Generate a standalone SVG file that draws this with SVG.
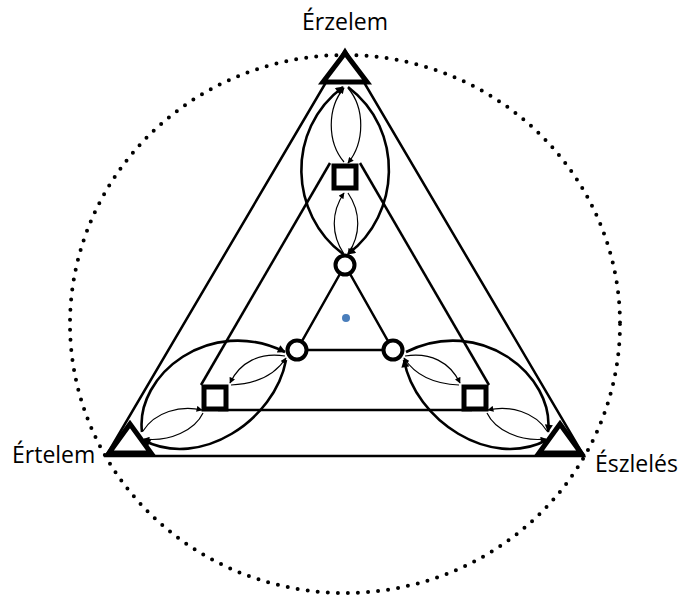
<svg xmlns="http://www.w3.org/2000/svg" width="683" height="596" viewBox="0 0 683 596">
<defs>
<style>
.lbl{font-family:"Open Sans","Liberation Sans",sans-serif;font-size:23px;fill:#000}
.edge{fill:none;stroke:#000;stroke-width:2.5}
.thick{fill:none;stroke:#000;stroke-width:2.6}
.thin{fill:none;stroke:#000;stroke-width:1.2}
.tri{fill:#fff;stroke:#000;stroke-width:5;stroke-linejoin:miter}
.sq{fill:#fff;stroke:#000;stroke-width:5}
.cir{fill:#fff;stroke:#000;stroke-width:4}
</style>
<marker id="ah" viewBox="0 0 10 10" refX="9" refY="5" markerWidth="10" markerHeight="8" markerUnits="userSpaceOnUse" orient="auto"><path d="M0,0 L10,5 L0,10 z" fill="#000"/></marker>
<marker id="at" viewBox="0 0 10 10" refX="9" refY="5" markerWidth="7" markerHeight="6" markerUnits="userSpaceOnUse" orient="auto"><path d="M0,0 L10,5 L0,10 z" fill="#000"/></marker>
</defs>
<rect width="683" height="596" fill="#fff"/>
<ellipse id="outer" cx="345" cy="324" rx="275" ry="269" fill="none" stroke="#000" stroke-width="4" stroke-dasharray="0 10.1" stroke-linecap="round"/>
<g id="connectors">
<polygon class="edge" points="345,50 106,456 584,456"/>
<line class="edge" x1="330" y1="163" x2="201" y2="385"/>
<line class="edge" x1="360" y1="163" x2="489" y2="385"/>
<line class="edge" x1="218" y1="410" x2="472" y2="410"/>
<polygon class="edge" points="345,265 297,350 393,350"/>
<path class="thick" d="M343 254 C290 215 285 130 343 87" marker-end="url(#ah)"/>
<path class="thick" d="M348 87 C405 130 400 215 348 254" marker-end="url(#ah)"/>
<path class="thin" d="M344 162 C327 142 327 108 344 88" marker-end="url(#at)"/>
<path class="thin" d="M348 88 C365 108 365 142 348 163" marker-end="url(#at)"/>
<path class="thin" d="M344 254 C331 235 331 212 344 193" marker-end="url(#at)"/>
<path class="thin" d="M348 193 C361 212 361 235 348 254" marker-end="url(#at)"/>
<path class="thick" d="M142 432 C135 375 210 315 285 352" marker-end="url(#ah)"/>
<path class="thick" d="M286 360 C275 420 200 470 143 440" marker-end="url(#ah)"/>
<path class="thin" d="M143 431 C155 412 180 405 202 410" marker-end="url(#at)"/>
<path class="thin" d="M203 413 C195 430 170 442 144 439" marker-end="url(#at)"/>
<path class="thin" d="M285 356 C260 352 240 362 230 383" marker-end="url(#at)"/>
<path class="thin" d="M231 385 C255 384 275 375 286 358" marker-end="url(#at)"/>
<path class="thick" d="M406 352 C480 315 555 375 548 432" marker-end="url(#ah)"/>
<path class="thick" d="M547 440 C490 470 415 420 404 360" marker-end="url(#ah)"/>
<path class="thin" d="M547 431 C535 412 510 405 488 410" marker-end="url(#at)"/>
<path class="thin" d="M487 413 C495 430 520 442 546 439" marker-end="url(#at)"/>
<path class="thin" d="M405 356 C430 352 450 362 460 383" marker-end="url(#at)"/>
<path class="thin" d="M459 385 C435 384 415 375 404 358" marker-end="url(#at)"/>
</g>
<g id="n-erzelem"><polygon class="tri" points="345,53 323,82 367,82"/><text class="lbl" x="345" y="30" text-anchor="middle">Érzelem</text></g>
<g id="n-ertelem"><polygon class="tri" points="130,424 109,453 151,453"/><text class="lbl" x="12" y="463">Értelem</text></g>
<g id="n-eszleles"><polygon class="tri" points="560,424 539,453 581,453"/><text class="lbl" x="595" y="472">Észlelés</text></g>
<g id="sq-top"><rect class="sq" x="334" y="166" width="22" height="22"/></g>
<g id="sq-left"><rect class="sq" x="204" y="387" width="22" height="22"/></g>
<g id="sq-right"><rect class="sq" x="464" y="387" width="22" height="22"/></g>
<g id="c-top"><circle class="cir" cx="345" cy="265" r="9.5"/></g>
<g id="c-left"><circle class="cir" cx="297" cy="350" r="9.5"/></g>
<g id="c-right"><circle class="cir" cx="393" cy="350" r="9.5"/></g>
<g id="center"><circle cx="346" cy="318" r="4" fill="#4a7ebb"/></g>
</svg>
